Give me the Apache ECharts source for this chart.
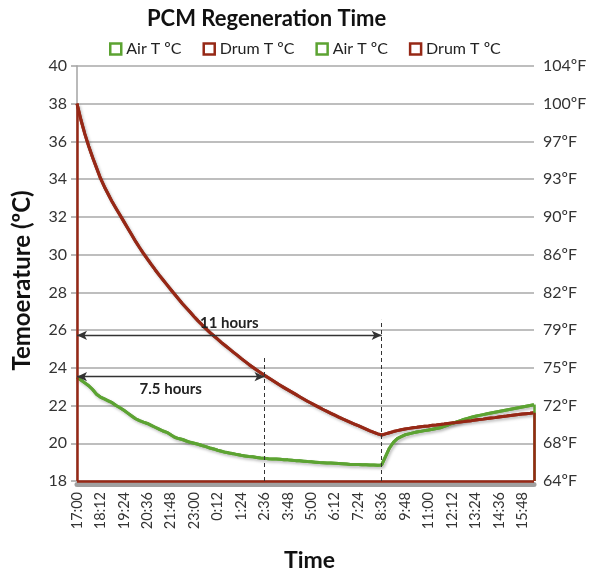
<!DOCTYPE html>
<html>
<head>
<meta charset="utf-8">
<script src="https://cdn.jsdelivr.net/npm/echarts@6/dist/echarts.min.js"></script>
<style>
  html, body { margin: 0; padding: 0; background: #fff; }
  #chart { width: 590px; height: 573px; }
</style>
</head>
<body>
<div id="chart"></div>
<script>
// Readings every 12 minutes, from 17:00 until 16:24 the next day
const startMinutes = 17 * 60;
const stepMinutes = 12;

// Air temperature (ºC)
const airTemp = [
  23.5, 23.35, 23.2, 23.05, 22.85, 22.6, 22.45, 22.35, 22.25, 22.15,
  22.0, 21.88, 21.75, 21.6, 21.45, 21.3, 21.2, 21.12, 21.05, 20.95,
  20.85, 20.75, 20.65, 20.58, 20.45, 20.32, 20.25, 20.2, 20.12, 20.05,
  20.0, 19.95, 19.88, 19.82, 19.75, 19.7, 19.63, 19.58, 19.52, 19.48,
  19.45, 19.4, 19.36, 19.33, 19.3, 19.28, 19.25, 19.22, 19.2, 19.18,
  19.17, 19.16, 19.15, 19.13, 19.12, 19.1, 19.08, 19.07, 19.05, 19.03,
  19.02, 19.0, 18.98, 18.97, 18.96, 18.95, 18.94, 18.93, 18.92, 18.9,
  18.88, 18.88, 18.87, 18.86, 18.86, 18.85, 18.85, 18.84, 18.85, 19.3,
  19.75, 20.05, 20.25, 20.35, 20.45, 20.5, 20.55, 20.6, 20.63, 20.67,
  20.7, 20.74, 20.78, 20.82, 20.9, 20.97, 21.05, 21.12, 21.19, 21.26,
  21.32, 21.38, 21.43, 21.48, 21.52, 21.56, 21.6, 21.64, 21.68, 21.72,
  21.76, 21.8, 21.84, 21.88, 21.92, 21.96, 22.0, 22.05
];

// Drum temperature (ºC)
const drumTemp = [
  38.0, 37.15, 36.4, 35.75, 35.15, 34.6, 34.05, 33.6, 33.2, 32.8,
  32.45, 32.1, 31.75, 31.4, 31.05, 30.7, 30.38, 30.07, 29.77, 29.48,
  29.2, 28.93, 28.67, 28.41, 28.15, 27.9, 27.65, 27.4, 27.17, 26.94,
  26.71, 26.49, 26.28, 26.08, 25.88, 25.7, 25.52, 25.34, 25.17, 25.0,
  24.83, 24.67, 24.5, 24.34, 24.18, 24.03, 23.88, 23.74, 23.6, 23.47,
  23.34, 23.21, 23.08, 22.95, 22.83, 22.71, 22.59, 22.47, 22.35, 22.23,
  22.12, 22.01, 21.9, 21.79, 21.69, 21.59, 21.49, 21.39, 21.29, 21.2,
  21.11, 21.02, 20.93, 20.84, 20.75, 20.66, 20.58, 20.5, 20.44, 20.5,
  20.56, 20.62, 20.67, 20.72, 20.76, 20.79, 20.82, 20.85, 20.88, 20.9,
  20.92, 20.95, 20.97, 21.0, 21.02, 21.05, 21.08, 21.1, 21.13, 21.15,
  21.18, 21.2, 21.23, 21.26, 21.28, 21.31, 21.34, 21.36, 21.39, 21.42,
  21.44, 21.47, 21.5, 21.52, 21.55, 21.57, 21.59, 21.62
];

// Secondary axis tick labels (Fahrenheit), one per 2 ºC step from 18 ºC
const fahrenheitLabels = ['64ºF', '68ºF', '72ºF', '75ºF', '79ºF', '82ºF',
                          '86ºF', '90ºF', '93ºF', '97ºF', '100ºF', '104ºF'];

// Annotated durations: end time, arrow height (ºC), marker top (ºC)
const spans = [
  { text: '11 hours', end: '8:36', level: 25.72, top: 26.54, pos: 'insideMiddleTop' },
  { text: '7.5 hours', end: '2:36', level: 23.53, top: 24.52, pos: 'insideMiddleBottom' }
];

const times = [];
for (let i = 0; i < drumTemp.length; i++) {
  const t = (startMinutes + i * stepMinutes) % 1440;
  times.push(Math.floor(t / 60) + ':' + String(t % 60).padStart(2, '0'));
}

const GREEN = '#5ca332';
const RED = '#962816';
const FONT = 'Lato, "Open Sans", sans-serif';
const yMin = 18, yMax = 40;
const first = times[0], last = times[times.length - 1];

const lineShadow = {
  shadowColor: 'rgba(0,0,0,0.28)', shadowBlur: 3, shadowOffsetX: 1.5, shadowOffsetY: 2
};

function seg(x1, y1, x2, y2, style) {
  const a = { coord: [x1, y1] };
  if (style) a.lineStyle = style;
  return [a, { coord: [x2, y2] }];
}

function legendItem(name, color) {
  return { name: name, itemStyle: { color: '#fff', borderColor: color, borderWidth: 2.5 } };
}

const chart = echarts.init(document.getElementById('chart'), null, { renderer: 'canvas' });

chart.setOption({
  animation: false,
  backgroundColor: '#fff',
  title: {
    text: 'PCM Regeneration Time',
    left: 142,
    top: 3,
    textStyle: { fontFamily: FONT, fontSize: 22, fontWeight: 'bold', color: '#111' }
  },
  legend: {
    top: 36,
    left: 104,
    icon: 'rect',
    itemWidth: 11,
    itemHeight: 11,
    itemGap: 21,
    textStyle: { fontFamily: FONT, fontSize: 16, color: '#222' },
    formatter: name => name.split('#')[0],
    data: [
      legendItem('Air T ºC', GREEN),
      legendItem('Drum T ºC', RED),
      legendItem('Air T ºC#2', GREEN),
      legendItem('Drum T ºC#2', RED)
    ]
  },
  grid: { left: 77, right: 56, top: 66, bottom: 92, outerBoundsMode: 'none', containLabel: false },
  xAxis: {
    type: 'category',
    data: times,
    boundaryGap: false,
    offset: 3,
    name: 'Time',
    nameLocation: 'middle',
    nameGap: 65,
    nameMoveOverlap: false,
    nameTextStyle: { fontFamily: FONT, fontSize: 23, fontWeight: 'bold', color: '#111', padding: [0, 0, 0, 8] },
    // thick grey base line under the plot
    axisLine: { onZero: false, lineStyle: { color: '#a0a0a0', width: 5 } },
    axisTick: { show: false },
    axisLabel: {
      interval: 5,
      rotate: 90,
      margin: 8,
      fontFamily: FONT,
      fontSize: 14.5,
      color: '#333'
    },
    splitLine: { show: false }
  },
  yAxis: [
    {
      type: 'value',
      min: yMin,
      max: yMax,
      interval: 2,
      name: 'Temoerature (ºC)',
      nameLocation: 'middle',
      nameGap: 43,
      nameMoveOverlap: false,
      nameTextStyle: {
        fontFamily: FONT, fontSize: 24, fontWeight: 'bold', color: '#111',
        padding: [0, 14, 0, 0]
      },
      axisLine: { show: true, lineStyle: { color: '#a3a3a3', width: 1.5 } },
      axisTick: { show: true, inside: false, length: 6, lineStyle: { color: '#a3a3a3', width: 1.5 } },
      axisLabel: { margin: 10, fontFamily: FONT, fontSize: 16, color: '#333' },
      splitLine: { lineStyle: { color: '#a8a8a8', width: 1.5 } }
    },
    {
      type: 'value',
      min: yMin,
      max: yMax,
      interval: 2,
      position: 'right',
      axisLine: { show: false },
      axisTick: { show: false },
      axisLabel: {
        margin: 9,
        fontFamily: FONT,
        fontSize: 16,
        color: '#333',
        formatter: v => fahrenheitLabels[Math.round((v - yMin) / 2)]
      },
      splitLine: { show: false }
    }
  ],
  series: [
    {
      name: 'Air T ºC',
      type: 'line',
      data: airTemp,
      yAxisIndex: 0,
      symbol: 'none',
      clip: false,
      color: GREEN,
      lineStyle: Object.assign({ color: GREEN, width: 3 }, lineShadow),
      z: 3,
      markLine: {
        silent: true,
        symbol: 'none',
        label: { show: false },
        lineStyle: { color: GREEN, width: 2.5, type: 'solid' },
        data: [seg(last, yMin, last, airTemp[airTemp.length - 1])]
      }
    },
    {
      name: 'Drum T ºC',
      type: 'line',
      data: drumTemp,
      yAxisIndex: 0,
      symbol: 'none',
      clip: false,
      color: RED,
      lineStyle: Object.assign({ color: RED, width: 3 }, lineShadow),
      z: 3
    },
    {
      name: 'Air T ºC#2',
      type: 'line',
      data: airTemp,
      yAxisIndex: 1,
      symbol: 'none',
      clip: false,
      color: GREEN,
      lineStyle: { color: GREEN, width: 3 },
      z: 4
    },
    {
      name: 'Drum T ºC#2',
      type: 'line',
      data: drumTemp,
      yAxisIndex: 1,
      symbol: 'none',
      clip: false,
      color: RED,
      lineStyle: { color: RED, width: 3 },
      z: 4,
      markLine: {
        silent: true,
        symbol: 'none',
        label: { show: false },
        lineStyle: { color: RED, width: 2.5, type: 'solid' },
        data: [
          seg(first, yMin, first, drumTemp[0]),
          seg(first, yMin, last, yMin),
          seg(last, yMin, last, drumTemp[drumTemp.length - 1])
        ]
      }
    },
    {
      name: 'annotations',
      type: 'line',
      data: [],
      yAxisIndex: 0,
      clip: false,
      z: 5,
      markLine: {
        silent: true,
        data: spans.flatMap(s => [
          [
            { coord: [s.end, yMin], symbol: 'none',
              lineStyle: { color: '#333', width: 1, type: [4, 3] }, label: { show: false } },
            { coord: [s.end, s.top], symbol: 'none' }
          ],
          [
            { coord: [first, s.level], symbol: 'arrow', symbolSize: [7, 10], symbolRotate: 90,
              lineStyle: { color: '#333', width: 1.3, type: 'solid' },
              label: {
                show: true, formatter: s.text, position: s.pos, distance: 5,
                fontFamily: FONT, fontSize: 15, fontWeight: 'bold', color: '#222'
              } },
            { coord: [s.end, s.level], symbol: 'arrow', symbolSize: [7, 10] }
          ]
        ])
      }
    }
  ]
});
</script>
</body>
</html>
